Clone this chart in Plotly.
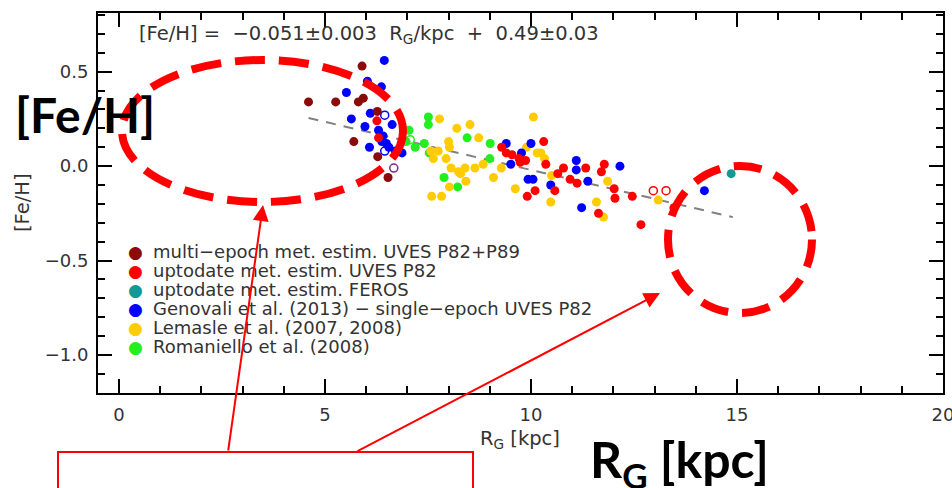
import plotly.graph_objects as go

# ---------------- data ----------------
multi_R = [5.90, 4.60, 5.26, 5.81, 5.93, 6.27, 5.70, 6.28, 6.53]
multi_Fe = [0.53, 0.34, 0.34, 0.34, 0.36, 0.29, 0.13, 0.05, -0.06]
multi_open_R = [6.67]
multi_open_Fe = [-0.01]

uves_R = [6.26, 6.30, 10.31, 9.29, 9.40, 9.54, 9.71, 9.87, 9.74, 10.36, 10.79, 10.65,
          10.95, 11.12, 11.33, 11.78, 11.71, 12.02, 12.04, 12.46, 10.10, 9.91, 10.58,
          11.64, 12.67, 13.47]
uves_Fe = [0.24, 0.15, 0.13, 0.10, 0.07, 0.06, 0.04, 0.03, 0.02, 0.01, -0.01, -0.04,
           -0.07, -0.09, -0.01, 0.01, -0.03, -0.12, -0.17, -0.16, -0.13, -0.16, -0.13,
           -0.25, -0.31, -0.22]
uves_open_R = [12.97, 13.28]
uves_open_Fe = [-0.13, -0.13]

feros_R = [14.86]
feros_Fe = [-0.04]

gen_R = [6.44, 6.03, 6.37, 5.52, 6.10, 5.64, 5.97, 6.63, 6.30, 6.41, 6.38, 6.49, 6.55,
         6.08, 6.87, 6.71, 9.40, 10.00, 9.51, 9.77, 9.93, 10.05, 10.48, 11.10, 11.10,
         11.38, 12.16, 11.23, 14.21]
gen_Fe = [0.56, 0.45, 0.42, 0.39, 0.28, 0.25, 0.21, 0.22, 0.19, 0.16, 0.13, 0.12, 0.10,
          0.10, 0.07, 0.08, 0.12, 0.12, 0.01, 0.07, -0.07, -0.07, -0.10, 0.03, -0.02,
          -0.08, 0.00, -0.22, -0.13]
gen_open_R = [6.45, 6.45]
gen_open_Fe = [0.27, 0.08]

lem_R = [7.78, 10.06, 8.20, 8.52, 8.00, 8.73, 8.02, 7.57, 7.75, 7.63, 7.94, 8.06, 8.24,
         8.40, 8.64, 8.84, 8.29, 8.42, 8.02, 7.59, 7.83, 9.09, 9.62, 9.28, 10.15, 10.24,
         10.33, 9.89, 10.48, 10.50, 11.59, 11.86, 11.76, 13.09]
lem_Fe = [0.25, 0.26, 0.20, 0.22, 0.13, 0.15, 0.10, 0.08, 0.08, 0.04, 0.04, -0.01, -0.03,
          -0.01, -0.01, 0.01, -0.04, -0.08, -0.11, -0.16, -0.16, -0.06, -0.12, -0.01, 0.07,
          0.07, 0.04, 0.10, -0.19, -0.05, -0.19, -0.08, -0.27, -0.18]

rom_R = [7.51, 7.51, 7.04, 6.97, 7.19, 7.41, 8.45, 9.01, 9.00, 7.89, 8.22, 7.53]
rom_Fe = [0.26, 0.22, 0.19, 0.13, 0.10, 0.12, 0.15, 0.12, 0.04, -0.06, -0.11, 0.07]
rom_open_R = [7.07]
rom_open_Fe = [0.14]

fit_R = [4.6, 14.9]
fit_Fe = [0.255, -0.27]

legend_names = [
    "multi\u2212epoch met. estim. UVES P82+P89",
    "uptodate met. estim. UVES P82",
    "uptodate met. estim. FEROS",
    "Genovali et al. (2013) \u2212 single\u2212epoch UVES P82",
    "Lemasle et al. (2007, 2008)",
    "Romaniello et al. (2008)",
]
legend_colors = ["#8B0A0A", "#FF0000", "#119A94", "#0000FF", "#FFCC00", "#22EE22"]

x_ticks = [0, 5, 10, 15, 20]
y_ticks = [-1.0, -0.5, 0.0, 0.5]

# ---------------- figure ----------------
W, H = 952, 488
L, R_, T, B = 98, 9, 13, 95
PW, PH = W - L - R_, H - T - B


def px(x):
    return (x - L) / PW


def py(y):
    return (H - B - y) / PH


C = dict(zip(["multi", "uves", "feros", "gen", "lem", "rom"], legend_colors))
MS = 9

fig = go.Figure()
fig.add_trace(go.Scatter(x=fit_R, y=fit_Fe, mode="lines",
                         line=dict(color="#808080", width=2, dash="10px,8px")))


def dots(xs, ys, color, open_=False):
    if open_:
        m = dict(symbol="circle-open", size=MS - 1, color=color, line=dict(width=1.5, color=color))
    else:
        m = dict(symbol="circle", size=MS, color=color, line=dict(width=0))
    fig.add_trace(go.Scatter(x=xs, y=ys, mode="markers", marker=m))


dots(rom_R, rom_Fe, C["rom"])
dots(rom_open_R, rom_open_Fe, C["rom"], True)
dots(lem_R, lem_Fe, C["lem"])
dots(gen_R, gen_Fe, C["gen"])
dots(gen_open_R, gen_open_Fe, C["gen"], True)
dots(multi_R, multi_Fe, C["multi"])
dots(multi_open_R, multi_open_Fe, "#7A2A8A", True)
dots(uves_R, uves_Fe, C["uves"])
dots(uves_open_R, uves_open_Fe, C["uves"], True)
dots(feros_R, feros_Fe, C["feros"])

FONT = "DejaVu Sans"
TXT = "#333333"

axis_common = dict(
    showline=True, linecolor="black", linewidth=2, mirror="allticks",
    ticks="inside", ticklen=14, tickwidth=1.5, tickcolor="black",
    showgrid=False, zeroline=False, ticklabeloverflow="allow", automargin=False,
    tickfont=dict(family=FONT, size=18, color=TXT),
)

fig.update_layout(
    width=W, height=H,
    margin=dict(l=L, r=R_, t=T, b=B, pad=0, autoexpand=False),
    paper_bgcolor="white", plot_bgcolor="white",
    showlegend=False,
    xaxis=dict(range=[-0.51, 20.002], tickvals=x_ticks, ticktext=[str(v) for v in x_ticks],
               minor=dict(dtick=1, tick0=0, ticks="inside", ticklen=7, tickwidth=1.5, tickcolor="black"),
               ticklabelstandoff=4, **axis_common),
    yaxis=dict(range=[-1.2015, 0.811], tickvals=y_ticks, tickformat=".1f",
               minor=dict(dtick=0.1, tick0=0, ticks="inside", ticklen=7, tickwidth=1.5, tickcolor="black"),
               ticklabelstandoff=4, **axis_common),
)

ann = []
# axis titles (as in the IDL plot)
ann.append(dict(x=px(520), y=py(439), xref="paper", yref="paper", showarrow=False,
                text="R<sub>G</sub> [kpc]", font=dict(family=FONT, size=19.5, color=TXT),
                xanchor="center", yanchor="middle"))
ann.append(dict(x=px(22), y=py(203), xref="paper", yref="paper", showarrow=False,
                text="[Fe/H]", textangle=-90, font=dict(family=FONT, size=19.5, color=TXT),
                xanchor="center", yanchor="middle"))
# fit formula
sp = "\u00a0"
ann.append(dict(x=px(137), y=py(35), xref="paper", yref="paper", showarrow=False,
                text=f"[Fe/H]{sp}={sp}{sp}\u22120.051\u00b10.003{sp}{sp}R<sub>G</sub>/kpc{sp}{sp}+{sp}{sp}0.49\u00b10.03",
                font=dict(family=FONT, size=19.5, color=TXT), xanchor="left", yanchor="middle"))
# legend
for i, (name, col) in enumerate(zip(legend_names, legend_colors)):
    yc = 251.7 + i * 19.0
    ann.append(dict(x=px(135), y=py(yc), xref="paper", yref="paper", showarrow=False,
                    text="\u25cf", font=dict(family=FONT, size=17, color=col),
                    xanchor="center", yanchor="middle"))
    ann.append(dict(x=px(151), y=py(yc), xref="paper", yref="paper", showarrow=False,
                    text=name, font=dict(family=FONT, size=18, color=TXT),
                    xanchor="left", yanchor="middle"))

# overlay: big labels
ann.append(dict(x=px(85), y=py(114), xref="paper", yref="paper", showarrow=False,
                text="<b>[Fe/H]</b>", font=dict(family="Lato", size=48, color="black"),
                xanchor="center", yanchor="middle"))
ann.append(dict(x=px(679), y=py(462), xref="paper", yref="paper", showarrow=False,
                text="<b>R<sub>G</sub> [kpc]</b>", font=dict(family="Lato", size=50, color="black"),
                xanchor="center", yanchor="middle"))
# overlay arrows
for (hx, hy), (tx, ty) in [((263, 205), (228, 452)), ((660, 293), (356, 452))]:
    ann.append(dict(x=px(hx), y=py(hy), xref="paper", yref="paper", showarrow=True,
                    ax=tx - hx, ay=ty - hy, axref="pixel", ayref="pixel",
                    arrowhead=2, arrowsize=1.6, arrowwidth=2, arrowcolor="#FF0000", text=""))
fig.update_layout(annotations=ann)

shapes = [
    dict(type="circle", xref="paper", yref="paper", x0=px(122), x1=px(403), y0=py(202), y1=py(60),
         line=dict(color="#FF0000", width=8, dash="30px,14px")),
    dict(type="circle", xref="paper", yref="paper", x0=px(668), x1=px(812), y0=py(313), y1=py(166),
         line=dict(color="#FF0000", width=8, dash="28px,14px")),
    dict(type="rect", xref="paper", yref="paper", x0=px(58), x1=px(473), y0=py(520), y1=py(452),
         line=dict(color="#FF0000", width=2), fillcolor="rgba(0,0,0,0)"),
]
fig.update_layout(shapes=shapes)

fig.write_html("out.html")
